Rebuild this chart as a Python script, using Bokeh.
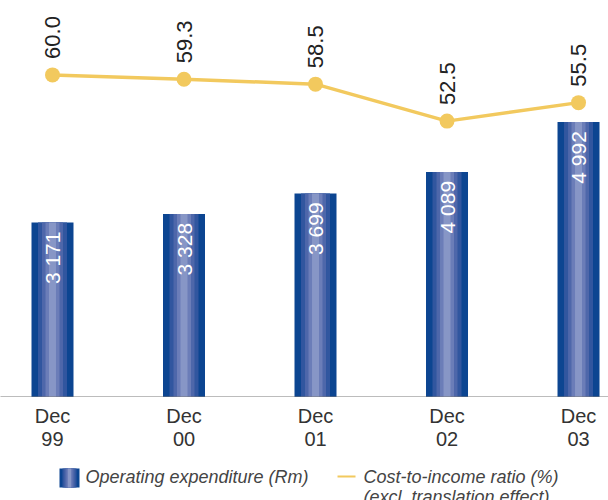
import math
from bokeh.plotting import figure
from bokeh.models import Range1d, LinearAxis, FixedTicker, ColumnDataSource
from bokeh.layouts import column
from bokeh.core.properties import value
from bokeh.embed import file_html
from bokeh.resources import INLINE

# ---- data ----
periods = ["Dec\n99", "Dec\n00", "Dec\n01", "Dec\n02", "Dec\n03"]
opex = [3171, 3328, 3699, 4089, 4992]          # Operating expenditure (Rm)
ratio = [60.0, 59.3, 58.5, 52.5, 55.5]          # Cost-to-income ratio (%)
legend_labels = ["Operating expenditure (Rm)",
                 "Cost-to-income ratio (%)\n(excl. translation effect)"]

FONT = "Liberation Sans"
xs = list(range(len(periods)))
stripe_colors = ["#0c4591", "#31569f", "#4e67aa", "#6b7db8", "#8796c6"]
stripe_px = [42, 29, 21, 14, 7]
px_per_unit = 131.5
LINE_COLOR = "#f2c95e"
W = 608

xr = Range1d(-0.3954, 4.228)

p = figure(width=W, height=397, output_backend="svg", toolbar_location=None,
           x_range=xr, y_range=Range1d(0, 7196),
           x_axis_location=None, y_axis_location=None,
           min_border_left=0, min_border_right=0, min_border_top=0, min_border_bottom=0)
p.outline_line_color = None
p.grid.visible = False
p.extra_y_ranges = {"ratio": Range1d(7.66, 72.07)}

src = ColumnDataSource(dict(x=xs, opex=opex, ratio=ratio,
                            opex_lbl=[f"{v:,}".replace(",", " ") for v in opex],
                            ratio_lbl=[f"{v:.1f}" for v in ratio]))

for c, w in zip(stripe_colors, stripe_px):
    p.vbar(x="x", top="opex", bottom=0, width=w / px_per_unit, source=src,
           fill_color=c, line_color=None)

p.text(x="x", y="opex", text="opex_lbl", source=src, angle=math.pi / 2,
       text_align="right", text_baseline="middle", y_offset=9,
       text_color="white", text_font=value(FONT), text_font_size="21px")

p.line(x="x", y="ratio", source=src, y_range_name="ratio",
       line_color=LINE_COLOR, line_width=3.5)
p.scatter(x="x", y="ratio", source=src, y_range_name="ratio", size=15,
          fill_color=LINE_COLOR, line_color=None)
p.text(x="x", y="ratio", text="ratio_lbl", source=src, y_range_name="ratio",
       angle=math.pi / 2, text_align="left", text_baseline="middle", y_offset=-16,
       text_color="#222222", text_font=value(FONT), text_font_size="22px")

xaxis = LinearAxis(ticker=FixedTicker(ticks=xs),
                   major_label_overrides={i: "" for i in xs})
xaxis.axis_line_color = "#7a7a7a"
xaxis.axis_line_width = 2
xaxis.major_tick_line_color = None
xaxis.minor_tick_line_color = None
xaxis.major_tick_out = 0
xaxis.major_tick_in = 0
xaxis.major_label_standoff = 0
xaxis.major_label_text_font_size = "0px"
p.add_layout(xaxis, "below")

# ---- category labels + legend strip (shares the x scale) ----
lg = figure(width=W, height=103, output_backend="svg", toolbar_location=None,
            x_range=xr, y_range=Range1d(0, 103),
            x_axis_location=None, y_axis_location=None,
            min_border_left=0, min_border_right=0, min_border_top=0, min_border_bottom=0)
lg.outline_line_color = None
lg.grid.visible = False
lg.text(x=xs, y=[96] * len(xs), text=periods, text_align="center", text_baseline="top",
        text_line_height=1.05, text_font=value(FONT), text_font_size="20px",
        text_color="#333333")

def px(v):
    # legend layout helper: pixel offset from the strip's left edge -> x-scale units
    return xr.start + v / px_per_unit

sw_px = [20, 14, 10, 6, 3]
for c, w in zip(stripe_colors, sw_px):
    lg.quad(left=[px(69 - w / 2)], right=[px(69 + w / 2)], bottom=[13], top=[32],
            fill_color=c, line_color=None)
lg.text(x=[px(85)], y=[34], text=[legend_labels[0]], text_baseline="top",
        text_font=value(FONT), text_font_style="italic", text_font_size="18px",
        text_color="#444444")
lg.line(x=[px(337), px(355)], y=[24, 24], line_color=LINE_COLOR, line_width=2)
lg.text(x=[px(363)], y=[34], text=[legend_labels[1]],
        text_baseline="top", text_line_height=1.0,
        text_font=value(FONT), text_font_style="italic", text_font_size="18px",
        text_color="#444444")

layout = column(p, lg, spacing=0)
open("out.html", "w").write(file_html(layout, INLINE))
